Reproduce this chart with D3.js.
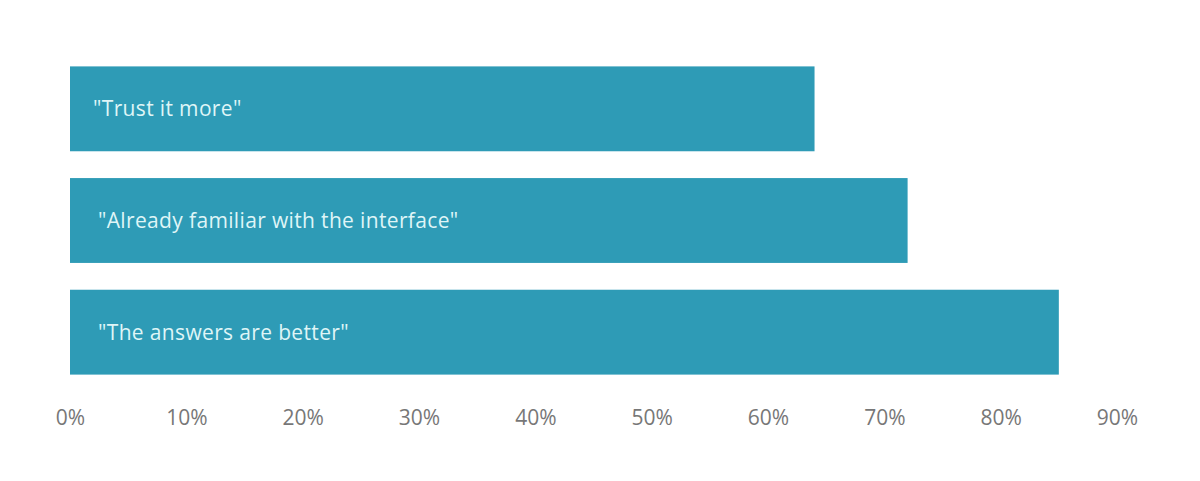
<!DOCTYPE html>
<html>
<head>
<meta charset="utf-8">
<script src="https://cdn.jsdelivr.net/npm/d3@7"></script>
<style>
  html, body { margin: 0; padding: 0; background: #ffffff; }
  svg { display: block; }
</style>
</head>
<body>
<svg id="chart" width="1200" height="481"></svg>
<script>
const categories = ['"Trust it more"', '"Already familiar with the interface"', '"The answers are better"'];
const values = [64, 72, 85];
const labelOffsets = [23, 28, 28];
const tickValues = [0, 10, 20, 30, 40, 50, 60, 70, 80, 90];

const svg = d3.select("#chart");
const x = d3.scaleLinear().domain([0, 90]).range([70, 1117]);
const y = d3.scaleBand().domain(categories).range([53, 388]).paddingInner(0.24).paddingOuter(0.12);

const barColor = "#2e9bb6";

svg.selectAll("rect.bar")
  .data(categories)
  .join("rect")
  .attr("class", "bar")
  .attr("x", x(0))
  .attr("y", d => y(d))
  .attr("width", (d, i) => x(values[i]) - x(0))
  .attr("height", y.bandwidth())
  .attr("fill", barColor);

svg.selectAll("text.lbl")
  .data(categories)
  .join("text")
  .attr("class", "lbl")
  .attr("x", (d, i) => x(0) + labelOffsets[i])
  .attr("y", d => y(d) + y.bandwidth() / 2)
  .attr("dy", "0.35em")
  .attr("fill", "#dff5f7")
  .style("font-family", "'Open Sans', 'Noto Sans', sans-serif")
  .style("font-size", "21px")
  .style("letter-spacing", "0.35px")
  .text(d => d);

const axis = d3.axisBottom(x).tickValues(tickValues).tickFormat(d => d + "%").tickSize(0).tickPadding(0);
const g = svg.append("g").attr("transform", "translate(0,425)").call(axis);
g.select(".domain").remove();
g.selectAll("text")
  .attr("y", 0)
  .attr("dy", "0")
  .attr("fill", "#777777")
  .style("font-family", "'Open Sans', 'Noto Sans', sans-serif")
  .style("font-size", "21px");
</script>
</body>
</html>
